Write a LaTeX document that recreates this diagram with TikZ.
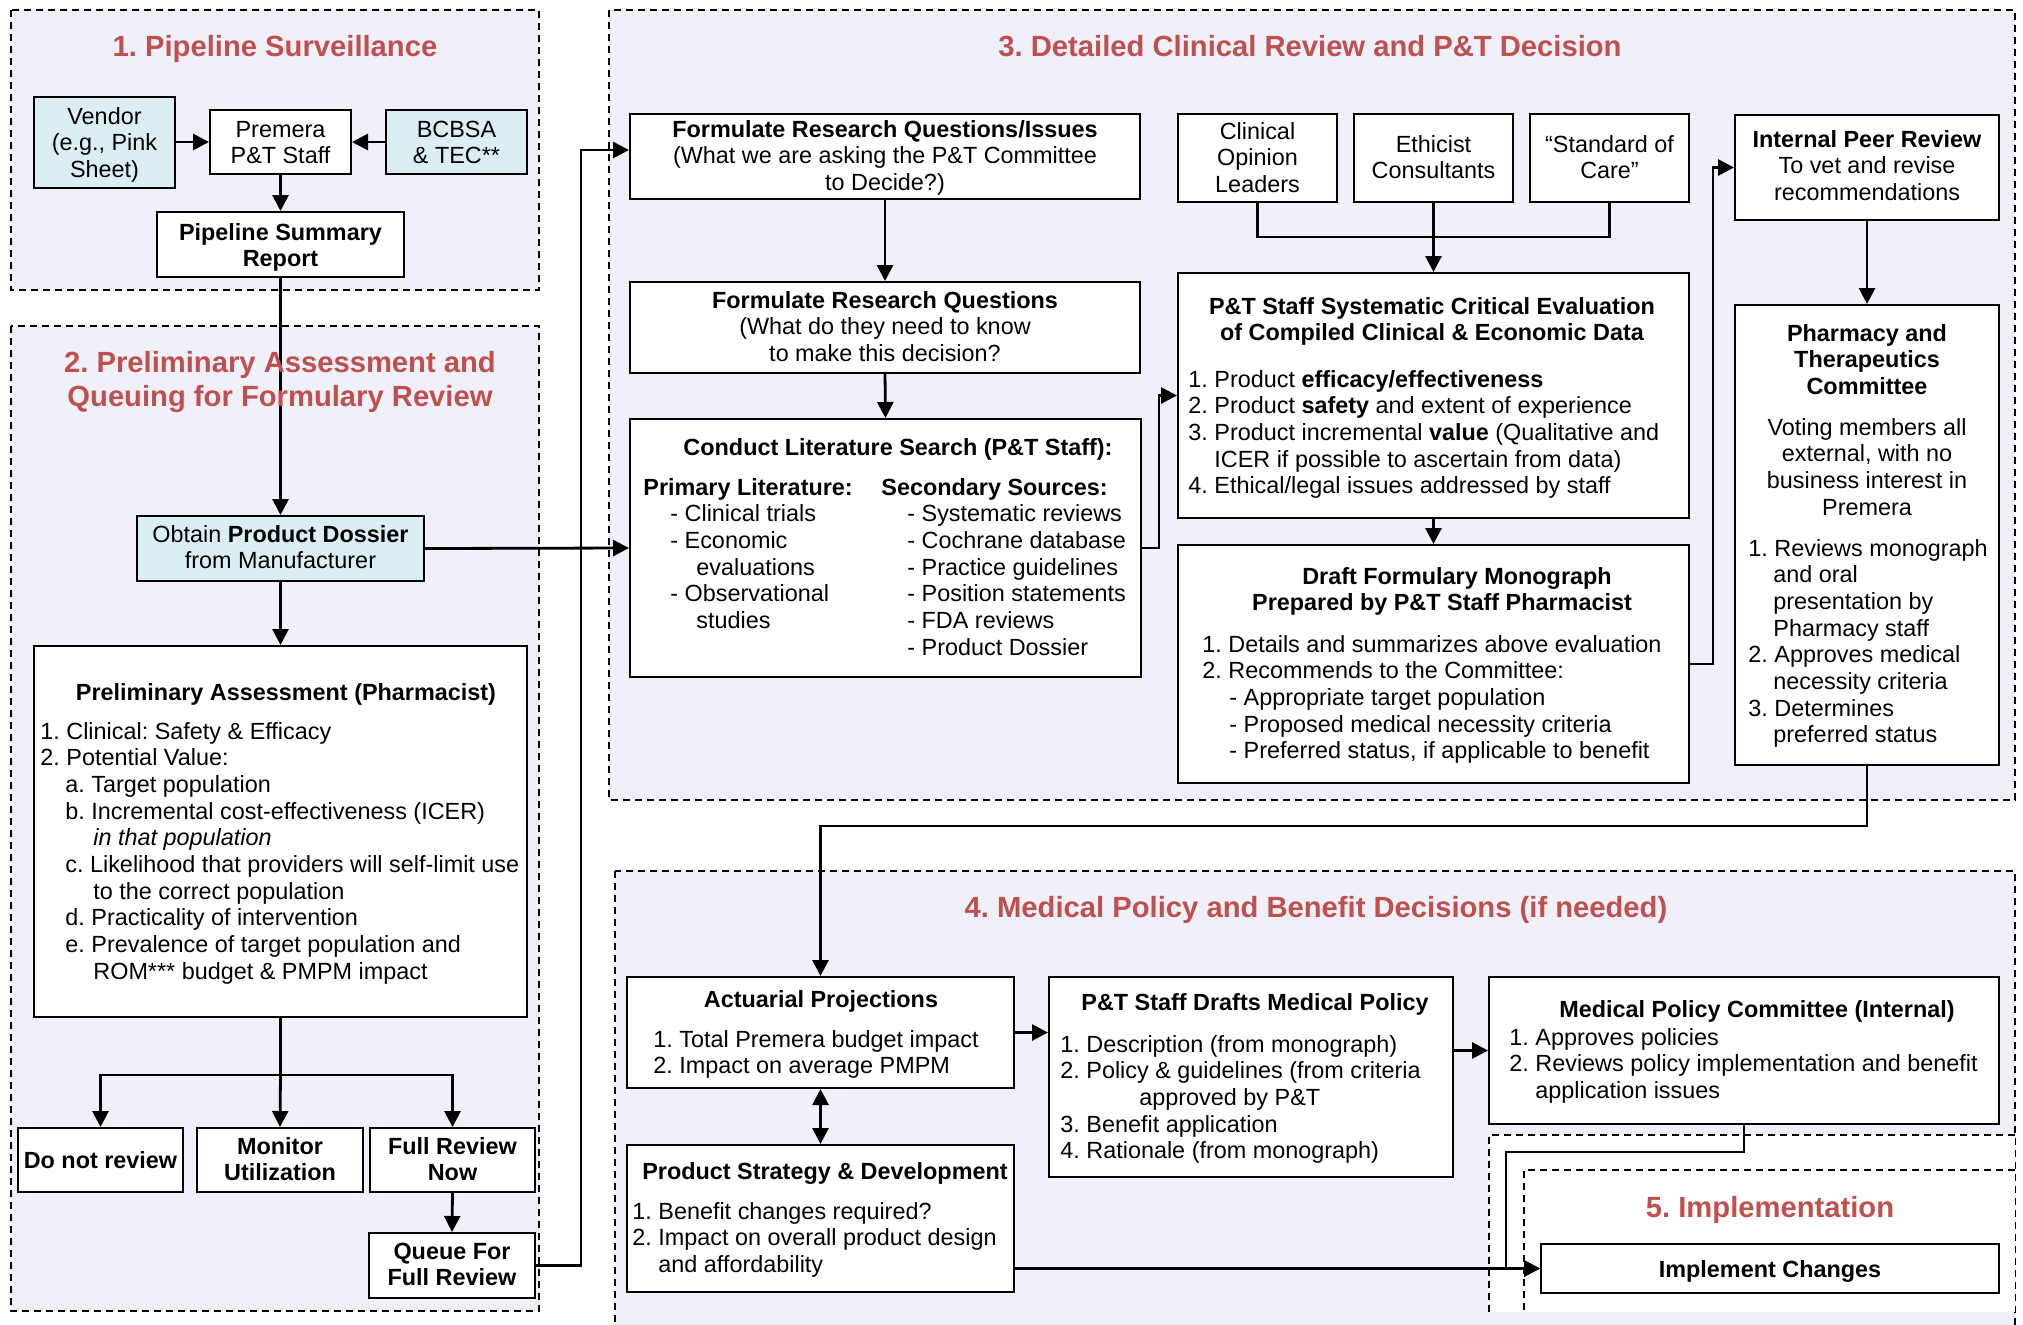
\documentclass[tikz,border=0pt]{standalone}
\usepackage{fontspec}
\setmainfont{Liberation Sans}
\usetikzlibrary{arrows.meta,fit,calc}
\definecolor{lav}{RGB}{240,240,250}
\definecolor{cyanbox}{RGB}{218,238,243}
\definecolor{ttl}{RGB}{192,80,77}
\newcommand\Lft[1]{\begin{tabular}[t]{@{}l@{}}#1\end{tabular}}
\newcommand\Ctr[1]{\begin{tabular}[t]{@{}c@{}}#1\end{tabular}}
\newcommand\ind[1]{\hspace*{#1pt}}
\begin{document}
\frenchspacing
\begin{tikzpicture}[x=0.5pt,y=-0.5pt,
  sec/.style={draw=black, fill=lav, line width=0.7pt, dash pattern=on 3.5pt off 2.5pt},
  secline/.style={draw=black, line width=0.7pt, dash pattern=on 3.5pt off 2.5pt},
  box/.style={draw=black, fill=white, line width=1pt, inner sep=0pt},
  cbox/.style={box, fill=cyanbox},
  txt/.style={inner sep=0pt, font=\fontsize{11.7}{13.35}\selectfont},
  btxt/.style={inner sep=0pt, font=\fontsize{11.7}{13.35}\selectfont\bfseries},
  stitle/.style={inner sep=0pt, text=ttl, font=\fontsize{14.6}{17}\selectfont\bfseries},
  conn/.style={line width=1.4pt},
  arr/.style={conn, -{Triangle[length=8pt,width=8pt]}},
  arrb/.style={conn, {Triangle[length=8pt,width=8pt]}-{Triangle[length=8pt,width=8pt]}},
]
\useasboundingbox (0,0) rectangle (2023,1324);
\fill[white] (0,0) rectangle (2023,1324);

% ---------- sections ----------
\draw[sec] (11,10) rectangle (539,290);
\draw[sec] (11,326) rectangle (539,1311);
\draw[sec] (609,10) rectangle (2015,800);
\draw[sec] (615,871) rectangle (2015,1340);
\fill[white] (1489,1135) rectangle (2015,1312);
\draw[secline] (1489,1312) |- (2015,1135);
\draw[secline] (1524,1310) |- (2015,1170);

% ---------- boxes ----------
\node[cbox, fit={(34,97) (175,188)}] (vendor) {};
\node[box, fit={(210,110) (351,174)}] (premera) {};
\node[cbox, fit={(386,110) (527,174)}] (bcbsa) {};
\node[box, fit={(157,212) (404,277)}] (summary) {};

\node[cbox, fit={(137,516) (424,581)}] (dossier) {};
\node[box, fit={(34,646) (527,1017)}] (prelim) {};
\node[box, fit={(18,1128) (183,1192)}] (dnr) {};
\node[box, fit={(197,1128) (363,1192)}] (monitor) {};
\node[box, fit={(370,1128) (535,1192)}] (frn) {};
\node[box, fit={(369,1233) (535,1298)}] (queue) {};

\node[box, fit={(630,114) (1140,199)}] (frqi) {};
\node[box, fit={(630,282) (1140,373)}] (frq) {};
\node[box, fit={(630,419) (1141,677)}] (lit) {};
\node[box, fit={(1178,114) (1337,202)}] (col) {};
\node[box, fit={(1354,114) (1513,202)}] (eth) {};
\node[box, fit={(1530,114) (1689,202)}] (soc) {};
\node[box, fit={(1178,273) (1689,518)}] (sys) {};
\node[box, fit={(1178,545) (1689,783)}] (draft) {};
\node[box, fit={(1735,115) (1999,220)}] (ipr) {};
\node[box, fit={(1735,305) (1999,765)}] (ptc) {};

\node[box, fit={(627,977) (1014,1088)}] (act) {};
\node[box, fit={(627,1145) (1014,1292)}] (psd) {};
\node[box, fit={(1049,977) (1453,1177)}] (drafts) {};
\node[box, fit={(1489,977) (1999,1124)}] (mpc) {};
\node[box, fit={(1541,1244) (1999,1293)}] (impl) {};

% ---------- connectors ----------
\draw[arr] (vendor.east |- premera.west) -- (premera.west);
\draw[arr] (bcbsa.west) -- (premera.east);
\draw[arr] (premera.south) -- (summary.north);
\draw[arr] (summary.south) -- (dossier.north);
\draw[arr] (dossier.south) -- (prelim.north);
\coordinate (br) at (280.5,1075);
\draw[conn] (prelim.south) -- (br);
\draw[arr] (br) -- (monitor.north);
\draw[arr] (br) -| (dnr.north);
\draw[arr] (br) -| (frn.north);
\draw[arr] (frn.south) -- (queue.north);
\draw[arr] (queue.east) -- ++(45,0) |- ($(frqi.west)+(0,-6.5)$);
\draw[arr] (dossier.east) -- (lit.west);
\draw[arr] (frqi.south) -- (frq.north);
\draw[arr] (frq.south) -- (lit.north);
\draw[arr] (lit.east) -- ++(17,0) |- (sys.west);
\coordinate (mg) at (1433.5,237);
\draw[conn] (col.south) |- (mg) -| (soc.south);
\draw[arr] (eth.south) -- (sys.north);
\draw[arr] (sys.south) -- (draft.north);
\draw[arr] (draft.east) -- ++(23,0) |- (ipr.west);
\draw[arr] (ipr.south) -- (ptc.north);
\draw[arr] (ptc.south) -- ++(0,60) -| (act.north);
\draw[arrb] (act.south) -- (psd.north);
\draw[arr] (act.east) -- (act.east -| drafts.west);
\draw[arr] (drafts.east |- mpc.west) -- (mpc.west);
\draw[arr] (mpc.south) -- ++(0,27) -| ($(impl.west)+(-34,0)$) -- (impl.west);
\draw[arr] (psd.east |- impl.west) -- (impl.west);

% ---------- section titles ----------
\node[stitle, anchor=base] (t1) at (275,56) {1. Pipeline Surveillance};
\node[stitle, anchor=base] (t2) at (280,372) {\Ctr{2. Preliminary Assessment and\\Queuing for Formulary Review}};
\node[stitle, anchor=base] (t3) at (1310,56) {3. Detailed Clinical Review and P\&T Decision};
\node[stitle, anchor=base] (t4) at (1316,917) {4. Medical Policy and Benefit Decisions (if needed)};
\node[stitle, anchor=base] (t5) at (1770,1217) {5. Implementation};

% ---------- texts: section 1 ----------
\node[txt, anchor=base] (vendortxt) at (104.5,124) {\Ctr{Vendor\\(e.g., Pink\\Sheet)}};
\node[txt, anchor=base] (premeratxt) at (280.5,137) {\Ctr{Premera\\P\&T Staff}};
\node[txt, anchor=base] (bcbsatxt) at (456.5,137) {\Ctr{BCBSA\\\& TEC**}};
\node[btxt, anchor=base] (summarytxt) at (280.5,240) {\Ctr{Pipeline Summary\\Report}};

% ---------- texts: section 2 ----------
\node[txt, anchor=base] (dossiertxt) at (280.5,542) {\Ctr{Obtain \textbf{Product Dossier}\\from Manufacturer}};
\node[btxt, anchor=base] (prelimttl) at (286,700) {Preliminary Assessment (Pharmacist)};
\node[txt, anchor=base west] (prelimlist) at (40,739) {\Lft{1. Clinical: Safety \& Efficacy\\
2. Potential Value:\\
\ind{12.5}a. Target population\\
\ind{12.5}b. Incremental cost-effectiveness (ICER)\\
\ind{26.5}\textit{in that population}\\
\ind{12.5}c. Likelihood that providers will self-limit use\\
\ind{26.5}to the correct population\\
\ind{12.5}d. Practicality of intervention\\
\ind{12.5}e. Prevalence of target population and\\
\ind{26.5}ROM*** budget \& PMPM impact}};
\node[btxt, anchor=base] (dnrtxt) at (100.5,1168) {Do not review};
\node[btxt, anchor=base] (monitortxt) at (280,1154) {\Ctr{Monitor\\Utilization}};
\node[btxt, anchor=base] (frntxt) at (452.5,1154) {\Ctr{Full Review\\Now}};
\node[btxt, anchor=base] (queuetxt) at (452,1259) {\Ctr{Queue For\\Full Review}};

% ---------- texts: section 3 ----------
\node[txt, anchor=base] (frqitxt) at (885,137) {\Ctr{\textbf{Formulate Research Questions/Issues}\\(What we are asking the P\&T Committee\\to Decide?)}};
\node[txt, anchor=base] (frqtxt) at (885,308) {\Ctr{\textbf{Formulate Research Questions}\\(What do they need to know\\to make this decision?}};
\node[btxt, anchor=base] (litttl) at (898,455) {Conduct Literature Search (P\&T Staff):};
\node[txt, anchor=base west] (litleft) at (643,495) {\Lft{\textbf{Primary Literature:}\\
\ind{13.5}- Clinical trials\\
\ind{13.5}- Economic\\
\ind{26.5}evaluations\\
\ind{13.5}- Observational\\
\ind{26.5}studies}};
\node[txt, anchor=base west] (litright) at (881,495) {\Lft{\textbf{Secondary Sources:}\\
\ind{13}- Systematic reviews\\
\ind{13}- Cochrane database\\
\ind{13}- Practice guidelines\\
\ind{13}- Position statements\\
\ind{13}- FDA reviews\\
\ind{13}- Product Dossier}};
\node[txt, anchor=base] (coltxt) at (1257.5,139) {\Ctr{Clinical\\Opinion\\Leaders}};
\node[txt, anchor=base] (ethtxt) at (1433.5,152) {\Ctr{Ethicist\\Consultants}};
\node[txt, anchor=base] (soctxt) at (1609.5,152) {\Ctr{“Standard of\\Care”}};
\node[btxt, anchor=base] (systtl) at (1432,314) {\Ctr{P\&T Staff Systematic Critical Evaluation\\of Compiled Clinical \& Economic Data}};
\node[txt, anchor=base west] (syslist) at (1188,387) {\Lft{1. Product \textbf{efficacy/effectiveness}\\
2. Product \textbf{safety} and extent of experience\\
3. Product incremental \textbf{value} (Qualitative and\\
\ind{13}ICER if possible to ascertain from data)\\
4. Ethical/legal issues addressed by staff}};
\node[btxt, anchor=base] (draftttl) at (1442,584) {\Ctr{\hspace*{15pt}Draft Formulary Monograph\\Prepared by P\&T Staff Pharmacist}};
\node[txt, anchor=base west] (draftlist) at (1202,652) {\Lft{1. Details and summarizes above evaluation\\
2. Recommends to the Committee:\\
\ind{13.5}- Appropriate target population\\
\ind{13.5}- Proposed medical necessity criteria\\
\ind{13.5}- Preferred status, if applicable to benefit}};
\node[txt, anchor=base] (iprtxt) at (1867,147) {\Ctr{\textbf{Internal Peer Review}\\To vet and revise\\recommendations}};
\node[btxt, anchor=base] (ptcttl) at (1867,341) {\Ctr{Pharmacy and\\Therapeutics\\Committee}};
\node[txt, anchor=base] (ptcvote) at (1867,435) {\Ctr{Voting members all\\external, with no\\business interest in\\Premera}};
\node[txt, anchor=base west] (ptclist) at (1748,556) {\Lft{1. Reviews monograph\\
\ind{12.5}and oral\\
\ind{12.5}presentation by\\
\ind{12.5}Pharmacy staff\\
2. Approves medical\\
\ind{12.5}necessity criteria\\
3. Determines\\
\ind{12.5}preferred status}};

% ---------- texts: section 4 ----------
\node[btxt, anchor=base] (actttl) at (821,1007) {Actuarial Projections};
\node[txt, anchor=base west] (actlist) at (653,1047) {\Lft{1. Total Premera budget impact\\2. Impact on average PMPM}};
\node[btxt, anchor=base] (psdttl) at (825,1179) {Product Strategy \& Development};
\node[txt, anchor=base west] (psdlist) at (632,1219) {\Lft{1. Benefit changes required?\\
2. Impact on overall product design\\
\ind{13}and affordability}};
\node[btxt, anchor=base] (draftsttl) at (1255,1010) {P\&T Staff Drafts Medical Policy};
\node[txt, anchor=base west] (draftslist) at (1060,1052) {\Lft{1. Description (from monograph)\\
2. Policy \& guidelines (from criteria\\
\ind{39.5}approved by P\&T\\
3. Benefit application\\
4. Rationale (from monograph)}};
\node[btxt, anchor=base] (mpcttl) at (1757,1017) {Medical Policy Committee (Internal)};
\node[txt, anchor=base west] (mpclist) at (1509,1045) {\Lft{1. Approves policies\\
2. Reviews policy implementation and benefit\\
\ind{13}application issues}};
\node[btxt, anchor=base] (impltxt) at (1770,1277) {Implement Changes};
\end{tikzpicture}
\end{document}
